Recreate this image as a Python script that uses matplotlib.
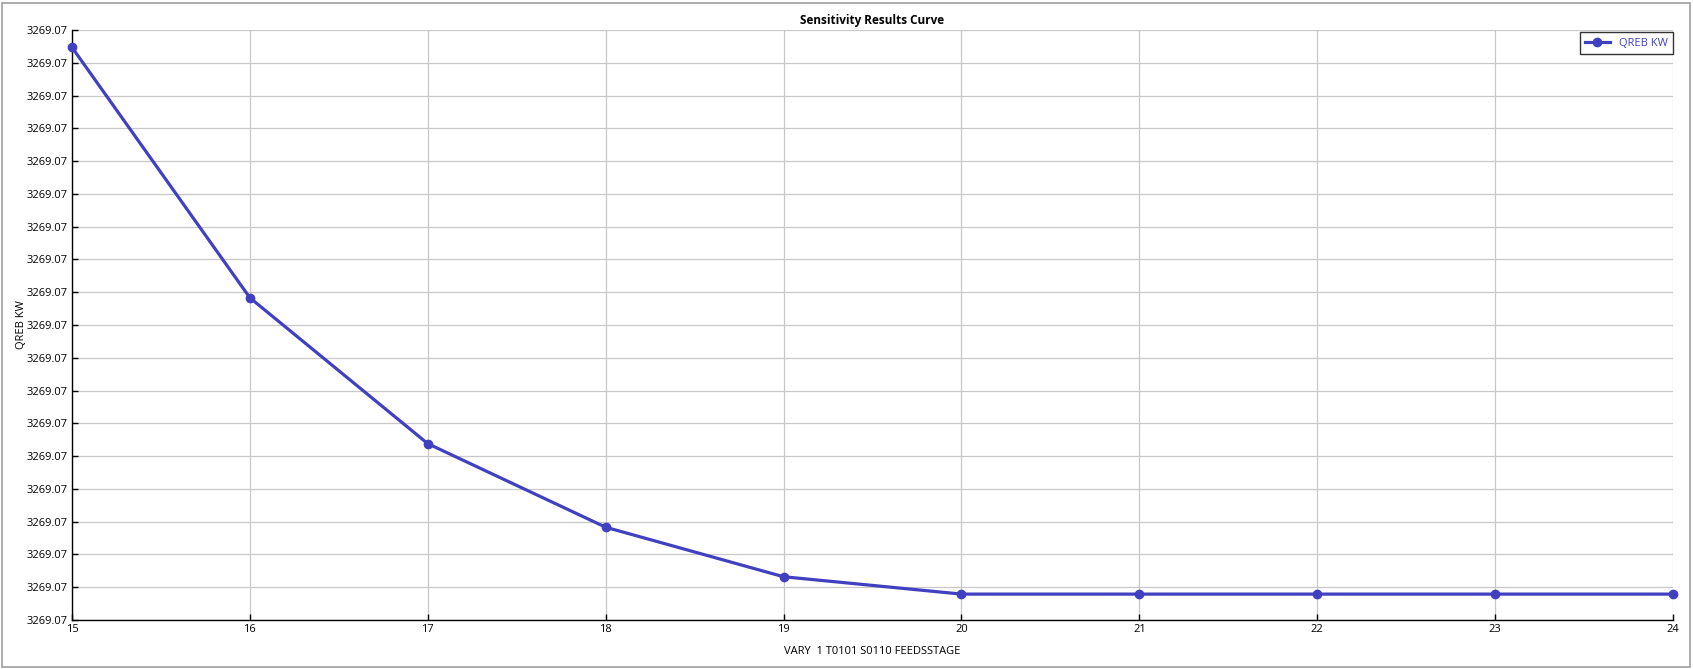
import matplotlib
matplotlib.use("Agg")
import matplotlib.pyplot as plt
from matplotlib.ticker import FixedLocator, FormatStrFormatter
from matplotlib.patches import Rectangle

plt.rcParams['font.family'] = ['Open Sans', 'DejaVu Sans']

x_vals = [15, 16, 17, 18, 19, 20, 21, 22, 23, 24]
qreb_kw = [3269.07001747, 3269.07000983, 3269.07000538, 3269.07000283,
           3269.07000132, 3269.07000079, 3269.07000079, 3269.07000079,
           3269.07000079, 3269.07000079]
y_ticks = [3269.07 + k * 0.000001 for k in range(19)]
title = "Sensitivity Results Curve"
x_label = "VARY  1 T0101 S0110 FEEDSSTAGE"
y_label = "QREB KW"
series_name = "QREB KW"

color = "#4040C0"

fig = plt.figure(figsize=(16.93, 6.69), dpi=100)
ax = fig.add_axes([72 / 1693, 1 - 620 / 669, (1673 - 72) / 1693, (620 - 30) / 669])

ax.plot(x_vals, qreb_kw, color=color, lw=2.3, marker='o', ms=6, label=series_name,
        clip_on=False, zorder=3)

ax.set_xlim(15, 24)
ax.set_ylim(y_ticks[0], y_ticks[-1])
ax.xaxis.set_major_locator(FixedLocator(x_vals))
ax.yaxis.set_major_locator(FixedLocator(y_ticks))
ax.yaxis.set_major_formatter(FormatStrFormatter('%.2f'))

ax.grid(True, color='#c8c8c8', lw=0.9)
ax.set_axisbelow(True)
for s in ['top', 'right']:
    ax.spines[s].set_visible(False)
for s in ['left', 'bottom']:
    ax.spines[s].set_color('black')
    ax.spines[s].set_linewidth(1.0)

ax.tick_params(direction='in', length=4, width=1, labelsize=8, colors='black', pad=3)

ax.set_title(title, fontsize=8.5, fontweight='bold', pad=4)
ax.set_xlabel(x_label, fontsize=8, labelpad=8)
ax.set_ylabel(y_label, fontsize=8, labelpad=0)

leg = ax.legend(loc='upper right', fontsize=8, frameon=True, fancybox=False,
                borderpad=0.5, handlelength=2.2, borderaxespad=0,
                bbox_to_anchor=(1.0, 0.996))
leg.get_frame().set_edgecolor('black')
leg.get_frame().set_linewidth(1.0)
for t in leg.get_texts():
    t.set_color(color)

fig.patches.append(Rectangle((2 / 1693, 2 / 669), 1 - 5 / 1693, 1 - 5 / 669,
                             transform=fig.transFigure, fill=False,
                             edgecolor='#a0a0a0', lw=1.2))

fig.savefig("out.png", dpi=100)
